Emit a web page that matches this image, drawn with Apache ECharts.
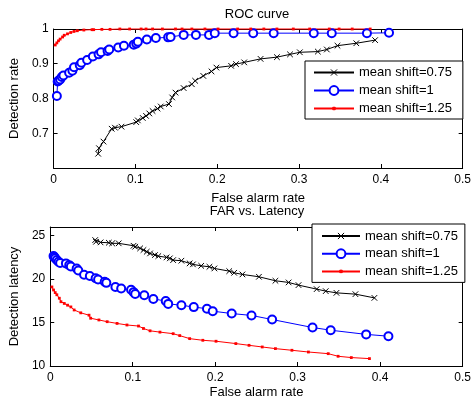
<!DOCTYPE html>
<html>
<head>
<meta charset="utf-8">
<script src="https://cdn.jsdelivr.net/npm/echarts@6/dist/echarts.min.js"></script>
<style>html,body{margin:0;padding:0;background:#fff}#c{width:474px;height:402px}</style>
</head>
<body>
<div id="c"></div>
<script>
// ---- data ----
const seriesNames = ['mean shift=0.75', 'mean shift=1', 'mean shift=1.25'];

const far075 = [0.0545,0.0555,0.061,0.071,0.075,0.083,0.101,0.103,0.109,0.113,0.117,0.121,0.127,0.131,0.141,0.145,0.149,0.159,0.169,0.173,0.183,0.193,0.199,0.217,0.223,0.233,0.253,0.273,0.289,0.301,0.323,0.334,0.347,0.370,0.393];
const roc075 = [0.641,0.657,0.676,0.713,0.716,0.719,0.732,0.737,0.744,0.750,0.757,0.764,0.771,0.777,0.784,0.803,0.817,0.830,0.841,0.851,0.865,0.878,0.889,0.894,0.899,0.904,0.914,0.919,0.927,0.933,0.935,0.941,0.952,0.959,0.968];
const lat075 = [24.50,24.30,24.23,24.19,24.12,24.12,23.84,23.73,23.54,23.35,23.15,22.96,22.77,22.65,22.50,22.39,22.19,22.12,21.81,21.70,21.53,21.42,21.23,20.92,20.73,20.54,20.27,19.81,19.62,19.31,18.85,18.62,18.42,18.27,17.84];

const far1 = [0.004,0.005,0.006,0.008,0.010,0.012,0.019,0.023,0.025,0.032,0.034,0.041,0.048,0.055,0.058,0.066,0.068,0.079,0.086,0.098,0.101,0.103,0.114,0.125,0.140,0.143,0.159,0.174,0.190,0.197,0.220,0.244,0.269,0.318,0.340,0.383,0.410];
const roc1 = [0.807,0.849,0.851,0.855,0.862,0.866,0.874,0.880,0.890,0.896,0.903,0.911,0.921,0.927,0.933,0.937,0.941,0.947,0.952,0.955,0.958,0.963,0.970,0.974,0.976,0.977,0.983,0.983,0.983,0.988,0.988,0.988,0.988,0.988,0.988,0.988,0.989];
const lat1 = [22.65,22.55,22.40,22.20,22.00,21.85,21.81,21.61,21.45,21.23,21.00,20.50,20.35,20.10,19.95,19.70,19.57,19.10,18.92,18.78,18.50,18.28,18.15,17.72,17.48,17.15,17.00,16.78,16.60,16.31,16.04,15.82,15.35,14.43,14.12,13.64,13.43];

const far125 = [0.002,0.004,0.006,0.008,0.011,0.013,0.017,0.021,0.025,0.029,0.037,0.047,0.049,0.059,0.069,0.081,0.093,0.107,0.113,0.121,0.133,0.149,0.157,0.169,0.185,0.201,0.225,0.241,0.257,0.273,0.293,0.313,0.337,0.349,0.365,0.387];
const roc125 = [0.954,0.960,0.966,0.971,0.977,0.982,0.986,0.990,0.993,0.995,0.997,0.998,0.998,0.999,0.999,1,1,1,1,1,1,1,1,1,1,1,1,1,1,1,1,1,1,1,1,1];
const lat125 = [19.10,18.75,18.45,18.20,17.80,17.40,17.20,17.00,16.80,16.45,16.12,15.85,15.50,15.30,15.10,14.90,14.72,14.60,14.32,14.05,13.90,13.72,13.50,13.15,12.96,12.85,12.58,12.38,12.19,12.00,11.81,11.61,11.42,11.12,10.97,10.85];

const xTicks = [0, 0.1, 0.2, 0.3, 0.4, 0.5];
const rocTicks = [0.7, 0.8, 0.9, 1];
const latTicks = [10, 15, 20, 25];

// ---- chart ----
const FONT = 'Liberation Sans, Arial, Helvetica, sans-serif';
const zip = (a, b) => a.map((v, i) => [v, b[i]]);
const crossPath = 'path://M0,0M10,10M1.5,1.5L8.5,8.5M8.5,1.5L1.5,8.5';
const dotPath = 'path://M0,0M10,10M3.6,3.6L6.4,3.6L6.4,6.4L3.6,6.4Z';

const styles = [
  { color: '#000000', symbol: crossPath, size: 8, bw: 1 },
  { color: '#0000ff', symbol: 'emptyCircle', size: 8, bw: 1.2 },
  { color: '#ff0000', symbol: dotPath, size: 10, bw: 0 }
];
const rocData = [zip(far075, roc075), zip(far1, roc1), zip(far125, roc125)];
const latData = [zip(far075, lat075), zip(far1, lat1), zip(far125, lat125)];

function mkSeries(i, data, xi, yi) {
  const s = styles[i];
  return {
    name: seriesNames[i], type: 'line', xAxisIndex: xi, yAxisIndex: yi,
    data: data, symbol: s.symbol, symbolSize: s.size, showAllSymbol: true,
    clip: false, animation: false,
    lineStyle: { color: s.color, width: 1 },
    itemStyle: { color: s.color, borderColor: s.color, borderWidth: s.bw },
    emphasis: { disabled: true }
  };
}

const lbl = { fontSize: 12, color: '#000', fontFamily: FONT };
function xAx(grid, pos, show, gap) {
  return {
    type: 'value', gridIndex: grid, position: pos, min: 0, max: 0.5, interval: 0.1,
    name: show ? 'False alarm rate' : '', nameLocation: 'middle', nameGap: gap,
    nameTextStyle: { fontSize: 13, color: '#000', fontFamily: FONT },
    axisLine: { show: true, onZero: false, lineStyle: { color: '#000', width: 1 } },
    axisTick: { show: true, inside: true, length: 4, lineStyle: { color: '#000' } },
    axisLabel: show ? Object.assign({ margin: 6, formatter: v => xTicks.some(t => Math.abs(t - v) < 1e-9) ? String(+v.toFixed(2)) : '' }, lbl) : { show: false },
    splitLine: { show: false }
  };
}
function yAx(grid, pos, show, min, max, iv, ticks, name, gap) {
  return {
    type: 'value', gridIndex: grid, position: pos, min: min, max: max, interval: iv,
    name: show ? name : '', nameLocation: 'middle', nameGap: gap,
    nameTextStyle: { fontSize: 13, color: '#000', fontFamily: FONT },
    axisLine: { show: true, onZero: false, lineStyle: { color: '#000', width: 1 } },
    axisTick: { show: true, inside: true, length: 4, lineStyle: { color: '#000' },
      interval: (idx, v) => ticks.some(t => Math.abs(t - v) < 1e-9) },
    axisLabel: show ? Object.assign({ margin: 5, showMinLabel: true, showMaxLabel: true,
      formatter: v => ticks.some(t => Math.abs(t - v) < 1e-9) ? String(+(+v).toFixed(2)) : '' }, lbl) : { show: false },
    splitLine: { show: false }
  };
}

function mkLegend(left, top, padding, gap, iw) {
  return {
    orient: 'vertical', left: left, top: top, padding: padding, itemGap: gap,
    itemWidth: iw, itemHeight: 11, borderColor: '#000', borderWidth: 1, borderRadius: 0,
    backgroundColor: '#fff', selectedMode: false, data: seriesNames,
    itemStyle: { borderWidth: 1 },
    textStyle: { fontSize: 13, color: '#000', fontFamily: FONT }
  };
}

const chart = echarts.init(document.getElementById('c'), null, { renderer: 'canvas' });
chart.setOption({
  animation: false,
  backgroundColor: '#fff',
  textStyle: { fontFamily: FONT },
  title: [
    { text: 'ROC curve', left: 257, top: 8, textAlign: 'center', padding: 0,
      textStyle: { fontSize: 13, fontWeight: 'normal', color: '#000', fontFamily: FONT } },
    { text: 'FAR vs. Latency', left: 257, top: 205, textAlign: 'center', padding: 0,
      textStyle: { fontSize: 13, fontWeight: 'normal', color: '#000', fontFamily: FONT } }
  ],
  grid: [
    { left: 49, top: 29, width: 416, height: 139 },
    { left: 49, top: 227, width: 416, height: 139 }
  ],
  xAxis: [ xAx(0, 'bottom', true, 24), xAx(0, 'top', false, 0), xAx(1, 'bottom', true, 20), xAx(1, 'top', false, 0) ],
  yAxis: [
    yAx(0, 'left', true, 0.6, 1, 0.1, rocTicks, 'Detection rate', 29),
    yAx(0, 'right', false, 0.6, 1, 0.1, rocTicks, '', 0),
    yAx(1, 'left', true, 10, 26, 5, latTicks, 'Detection latency', 26),
    yAx(1, 'right', false, 10, 26, 5, latTicks, '', 0)
  ],
  legend: [
    mkLegend(305, 61, [5, 11, 4, 8], 5, 40),
    mkLegend(312, 224, [5.5, 7, 4.5, 9], 4.7, 38)
  ],
  series: [
    mkSeries(0, rocData[0], 0, 0), mkSeries(1, rocData[1], 0, 0), mkSeries(2, rocData[2], 0, 0),
    mkSeries(0, latData[0], 2, 2), mkSeries(1, latData[1], 2, 2), mkSeries(2, latData[2], 2, 2)
  ]
});
</script>
</body>
</html>
